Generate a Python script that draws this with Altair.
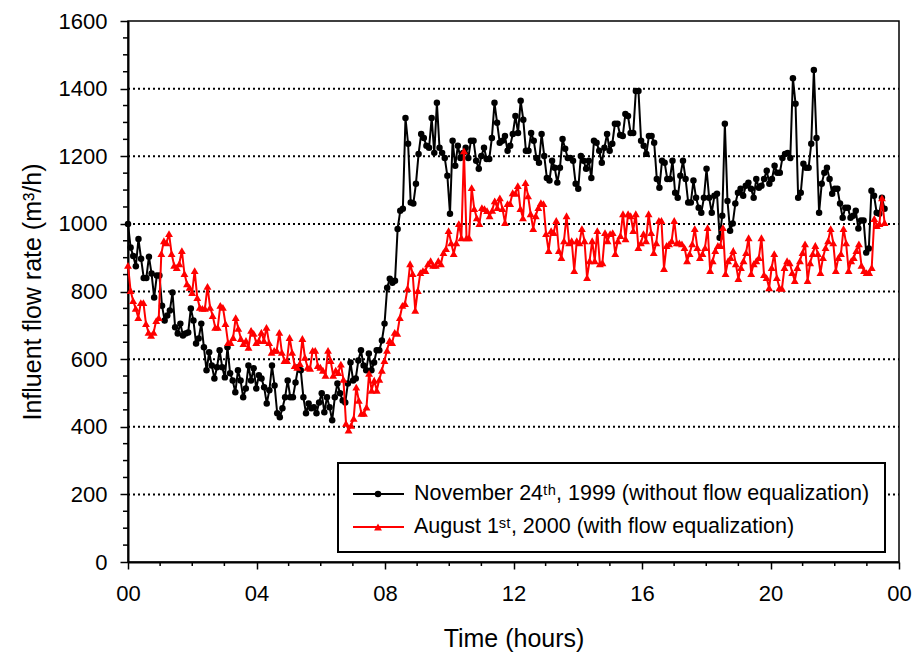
import altair as alt
import numpy as np
import pandas as pd

# ---------------- data ----------------
NOV_1999 = [
    1000, 930, 905, 875, 955, 897, 840, 840, 903, 853, 782, 847, 847, 758, 714, 729, 744, 797, 694, 676,
    705, 670, 676, 679, 750, 714, 646, 661, 705, 635, 567, 620, 581, 543, 576, 626, 576, 546, 635, 558,
    537, 502, 567, 537, 487, 513, 581,
    537, 573, 513, 552, 543, 517, 469, 508, 581, 522, 440, 428, 455, 487, 537, 487, 487, 531, 576, 567,
    487, 440, 469, 455, 458, 440, 472, 499, 443, 487, 458, 419, 487, 528, 499, 478, 472, 528, 590, 537,
    543, 596, 626, 581, 567, 617, 567, 590, 626, 626,
    655, 705, 811, 838, 826, 832, 985, 1039, 1045, 1313, 1237, 1063, 1060, 1119, 1207, 1266, 1254, 1231,
    1225, 1313, 1210, 1358, 1225, 1210, 1195, 1142, 1030, 1246, 1172, 1231, 1195, 1210, 1225, 1195, 1246,
    1246, 1187, 1163, 1201, 1225, 1192, 1192, 1254, 1358, 1299, 1240, 1246, 1260, 1216, 1231, 1266, 1319,
    1269, 1364,
    1308, 1216, 1216, 1269, 1246, 1195, 1181, 1266, 1201, 1136, 1128, 1187, 1166, 1122, 1166, 1251, 1222,
    1195, 1195, 1187, 1119, 1104, 1201, 1187, 1163, 1187, 1136, 1246, 1240, 1216, 1181, 1225, 1266, 1216,
    1237, 1296, 1296, 1263, 1260, 1325, 1319, 1269, 1269, 1393, 1393, 1246,
    1231, 1207, 1260, 1260, 1240, 1133, 1107, 1187, 1181, 1133, 1133, 1187, 1092, 1077, 1142, 1187, 1133,
    1063, 1063, 1128, 1077, 1048, 1033, 1077, 1163, 1077, 1033, 1083, 1089, 959, 1024, 1296, 1068, 980,
    1001, 1060, 1092, 1104, 1083, 1113, 1122, 1104, 1077, 1133, 1107, 1113, 1133, 1157, 1119, 1133, 1172,
    1151, 1151, 1195, 1207, 1210, 1195, 1431, 1355, 1077, 1092, 1178, 1166, 1166, 1237, 1455, 1254, 1033,
    1119, 1151, 1166, 1133, 1089, 1104, 1104, 1060, 1018, 1048, 1048, 1018, 1024, 1039, 986, 1010, 1010,
    915, 927, 1098, 1083, 1033, 1030, 1077, 1045,
]

AUG_2000 = [
    877, 803, 773, 750, 723, 767, 767, 705, 679, 670, 679, 714, 723, 912, 950, 944, 971, 912, 877, 871,
    882, 921, 853, 823, 812, 797, 862, 782, 753, 750, 750, 815, 753, 729, 694, 694, 759, 753, 705, 649,
    649, 664, 723, 691, 661, 646, 655, 635, 685, 676, 649, 655, 679,
    655, 694, 649, 620, 626, 626, 679, 620, 596, 596, 664, 620, 581, 576, 587, 661, 605, 576, 573, 626,
    626, 581, 576, 567, 552, 626, 596, 552, 567, 560, 585, 540, 410, 390, 404, 425, 517, 478, 440, 440,
    458, 558, 508, 537, 508, 540, 567, 596, 626, 655,
    649, 679, 676, 723, 759, 764, 809, 882, 853, 744, 803, 856, 862, 862, 882, 891, 877, 877, 891, 882,
    915, 927, 980, 944, 912, 944, 1001, 959, 1216, 959, 959, 1107, 1045, 1018, 1001, 1048, 1045, 1039,
    1024, 1040, 1068, 1048, 1077, 1045, 1004, 1060, 1060, 1092, 1090, 1113, 1045,
    1018, 1122, 1083, 1030, 986, 1024, 1048, 1063, 1060, 971, 921, 980, 974, 1010, 921, 900, 950, 1024,
    944, 950, 862, 950, 944, 986, 950, 841, 891, 950, 891, 980, 882, 885, 974, 950, 971, 974, 912, 950,
    965, 1030, 956, 1030, 1024, 980, 1030, 930, 944, 971, 950, 1030, 974, 915,
    944, 1010, 1010, 868, 936, 941, 950, 1010, 944, 944, 941, 930, 891, 912, 941, 986, 930, 900, 912, 930,
    989, 862, 891, 921, 936, 936, 989, 853, 891, 900, 921, 882, 838, 871, 891, 915, 959, 853, 882, 891,
    900, 959, 850, 841, 811, 871,
    912, 841, 811, 809, 871, 891, 885, 856, 832, 871, 891, 915, 941, 832, 885, 912, 936, 912, 856, 900,
    930, 950, 986, 944, 862, 900, 912, 986, 944, 862, 891, 900, 921, 941, 877, 862, 856, 856, 871, 1016,
    995, 1001, 1077, 1004,
]

START_HOUR = 0.0
END_HOUR = 23.55

SERIES = ["November 24th, 1999 (without flow equalization)", "August 1st, 2000 (with flow equalization)"]
LEGEND_TEXT = ["November 24\u1d57\u02b0, 1999 (without flow equalization)",
               "August 1\u02e2\u1d57, 2000 (with flow equalization)"]

X_TICKS = [0, 4, 8, 12, 16, 20, 24]
X_MINOR = [h for h in range(0, 25) if h % 4 != 0]
Y_TICKS = [0, 200, 400, 600, 800, 1000, 1200, 1400, 1600]
Y_MINOR = [v for v in range(0, 1601, 50) if v % 200 != 0]
GRID_Y = [200, 400, 600, 800, 1000, 1200, 1400]

# ---------------- layout ----------------
W, H = 771, 541
FONT = "Liberation Sans"


def series_frame(values, name):
    hours = np.linspace(START_HOUR, END_HOUR, len(values))
    return pd.DataFrame({"hour": hours, "flow": values, "series": name})


black_df = series_frame(NOV_1999, SERIES[0])
red_df = series_frame(AUG_2000, SERIES[1])

xscale = alt.Scale(domain=[0, 24], nice=False, zero=False)
yscale = alt.Scale(domain=[0, 1600], nice=False)

x_axis = alt.Axis(
    values=X_TICKS,
    labelExpr="datum.value == 24 ? '00' : (datum.value < 10 ? '0' + datum.value : '' + datum.value)",
    title="Time (hours)",
    tickSize=7, labelPadding=31, labelBaseline="alphabetic",
    labelFontSize=22, titleFontSize=25,
    titleY=84, titleBaseline="alphabetic",
    labelFlush=False,
)
y_axis = alt.Axis(
    values=Y_TICKS, format="d",
    title="Influent flow rate (m\u00b3/h)",
    tickSize=8, labelPadding=13,
    labelFontSize=22, titleFontSize=25,
    titleX=-96, titleBaseline="middle",
)


def X(field):
    return alt.X(field, scale=xscale, axis=x_axis)


def Y(field):
    return alt.Y(field, scale=yscale, axis=y_axis)


grid = alt.Chart(pd.DataFrame({"g": GRID_Y})).mark_rule(
    color="black", strokeWidth=2, strokeDash=[2, 3]
).encode(
    y=Y("g:Q"),
    x=alt.value(0), x2=alt.value(W),
)

black_line = alt.Chart(black_df).mark_line(color="black", strokeWidth=2).encode(
    x=X("hour:Q"), y=Y("flow:Q"),
)
black_pts = alt.Chart(black_df).mark_point(
    shape="circle", filled=True, color="black", size=42, opacity=1
).encode(x=X("hour:Q"), y=Y("flow:Q"))
red_line = alt.Chart(red_df).mark_line(color="#ff0000", strokeWidth=2).encode(
    x=X("hour:Q"), y=Y("flow:Q"),
)
red_pts = alt.Chart(red_df).mark_point(
    shape="triangle-up", filled=True, color="#ff0000", size=62, opacity=1
).encode(x=X("hour:Q"), y=Y("flow:Q"))

x_minor = alt.Chart(pd.DataFrame({"m": X_MINOR})).mark_rule(color="black", strokeWidth=1.5).encode(
    x=X("m:Q"),
    y=alt.value(H), y2=alt.value(H + 4),
)
y_minor = alt.Chart(pd.DataFrame({"m": Y_MINOR})).mark_rule(color="black", strokeWidth=1.5).encode(
    y=Y("m:Q"),
    x=alt.value(0), x2=alt.value(-5),
)

# ---------------- legend (drawn by hand) ----------------
one = pd.DataFrame({"k": [0]})
LX0, LX1, LY0, LY1 = 210, 757, 442, 531
ROW1, ROW2 = 473, 506
SX0, SX1, SXM, TX = 225, 276, 250, 286

leg_box = alt.Chart(one).mark_rect(fill="white", stroke="black", strokeWidth=2).encode(
    x=alt.value(LX0), x2=alt.value(LX1), y=alt.value(LY0), y2=alt.value(LY1)
)
leg_l1 = alt.Chart(one).mark_rule(color="black", strokeWidth=2).encode(
    x=alt.value(SX0), x2=alt.value(SX1), y=alt.value(ROW1)
)
leg_l2 = alt.Chart(one).mark_rule(color="#ff0000", strokeWidth=2).encode(
    x=alt.value(SX0), x2=alt.value(SX1), y=alt.value(ROW2)
)
leg_p1 = alt.Chart(one).mark_point(shape="circle", filled=True, color="black", size=42, opacity=1).encode(
    x=alt.value(SXM), y=alt.value(ROW1)
)
leg_p2 = alt.Chart(one).mark_point(shape="triangle-up", filled=True, color="#ff0000", size=62, opacity=1).encode(
    x=alt.value(SXM), y=alt.value(ROW2)
)
leg_t1 = alt.Chart(one).mark_text(align="left", baseline="middle", fontSize=21.5, font=FONT, color="black").encode(
    x=alt.value(TX), y=alt.value(ROW1), text=alt.value(LEGEND_TEXT[0])
)
leg_t2 = alt.Chart(one).mark_text(align="left", baseline="middle", fontSize=21.5, font=FONT, color="black").encode(
    x=alt.value(TX), y=alt.value(ROW2), text=alt.value(LEGEND_TEXT[1])
)

chart = alt.layer(
    black_line, grid, x_minor, y_minor, black_pts, red_line, red_pts,
    leg_box, leg_l1, leg_l2, leg_p1, leg_p2, leg_t1, leg_t2,
).properties(
    width=W, height=H,
    padding={"left": 128, "top": 21, "right": 19, "bottom": 91},
    autosize=alt.AutoSizeParams(type="none"),
    background="white",
).configure_view(
    stroke="black", strokeWidth=1.5
).configure_axis(
    domainColor="black", domainWidth=2, tickColor="black", tickWidth=1.5,
    labelColor="black", titleColor="black", labelFont=FONT, titleFont=FONT,
    titleFontWeight="normal", grid=False,
)

chart.save("out.html", embed_options={"renderer": "svg", "actions": False})
